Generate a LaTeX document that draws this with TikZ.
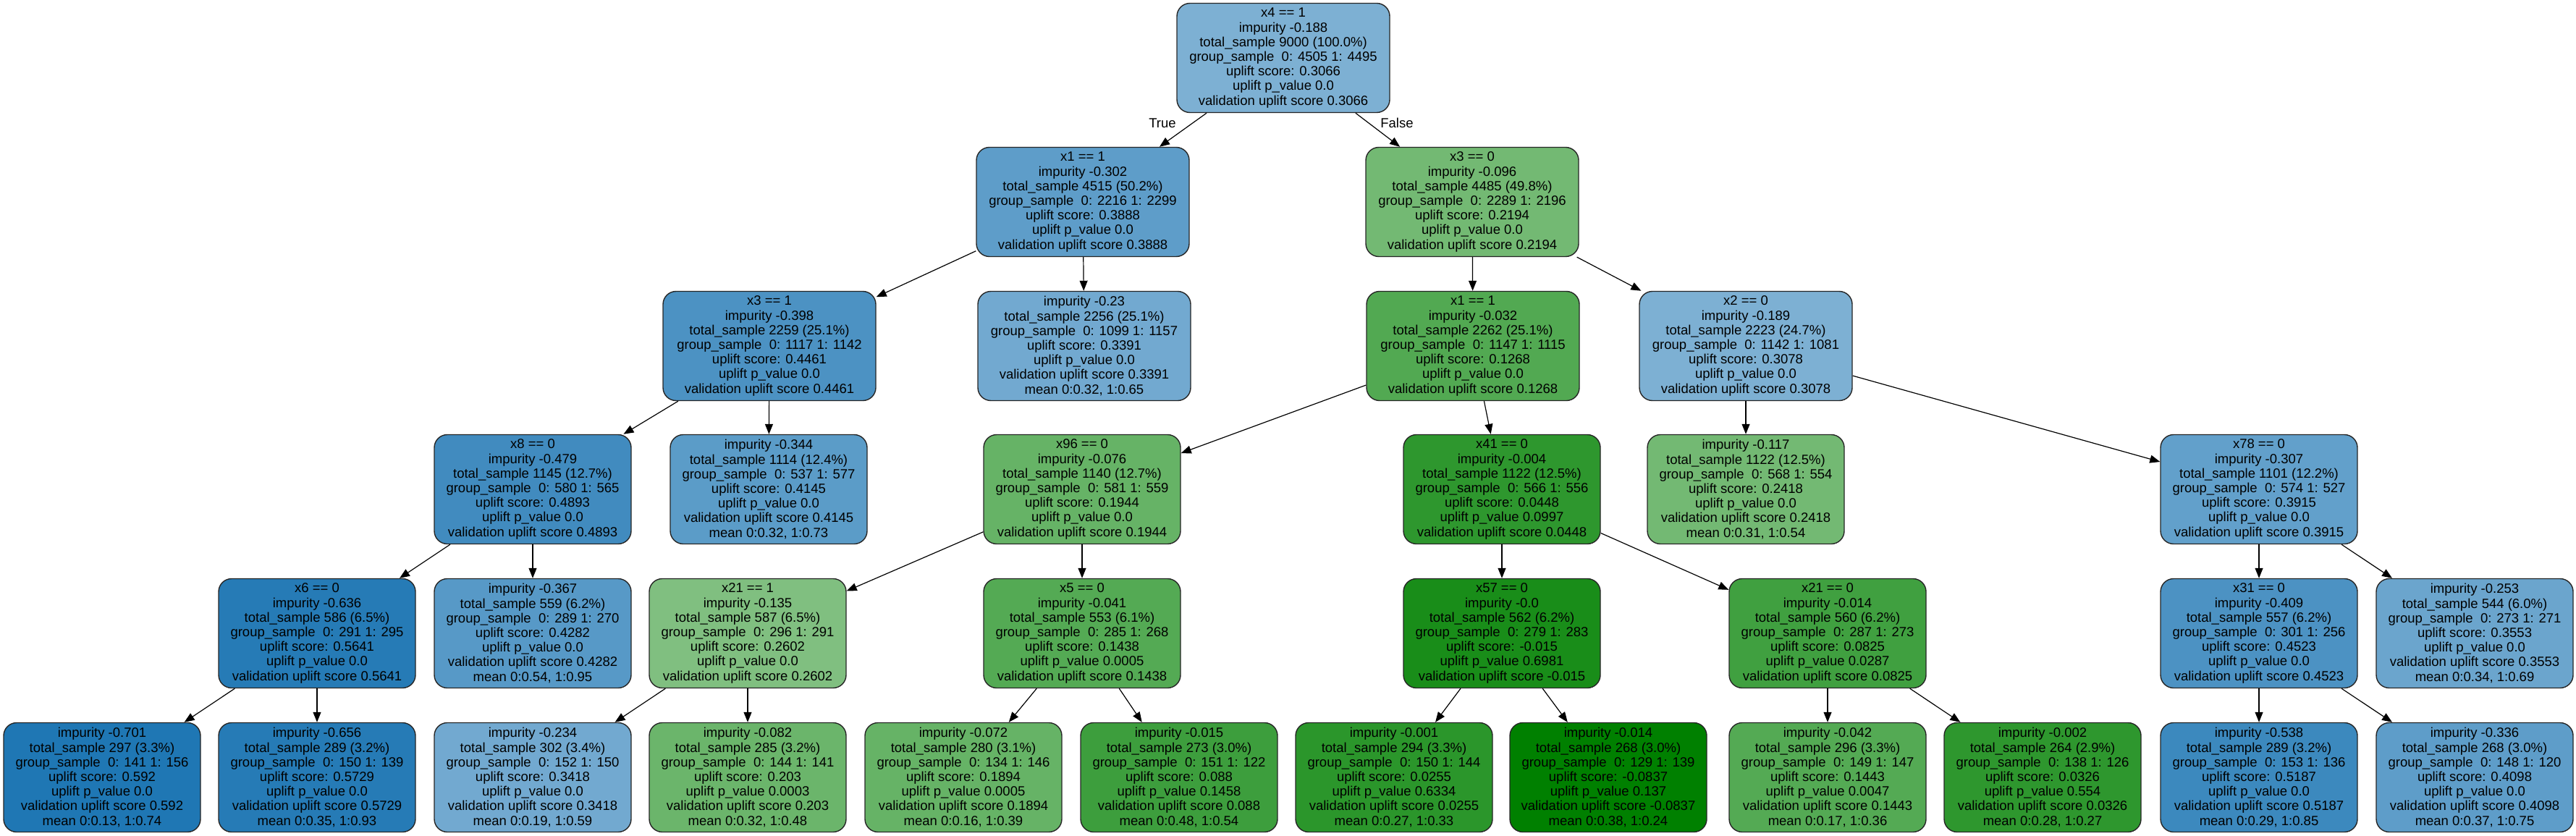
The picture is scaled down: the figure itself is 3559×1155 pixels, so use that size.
\documentclass[tikz,border=0pt]{standalone}
\usepackage{fontspec}
\setmainfont{Liberation Sans}
\usepackage{tikz}
\usetikzlibrary{arrows.meta}

\definecolor{upblue}{HTML}{1F77B4}
\definecolor{upgreen}{HTML}{008000}

\begin{document}
\begin{tikzpicture}[x=1pt,y=-1pt]
			\tikzstyle{Box}		= [rectangle, rounded corners=18pt, draw=black!85, line width=1.4pt, minimum width=272pt, minimum height=151pt, inner sep=0pt, align=center, font=\fontsize{18.5}{20.2}\selectfont]
			\tikzstyle{Wide}	= [minimum width=294pt]
			\tikzstyle{Edge}	= [-{Triangle[length=14pt,width=11pt]}, line width=1.2pt]
			\tikzstyle{Branch}	= [font=\fontsize{18.5}{20.2}\selectfont]

			\useasboundingbox (0,0) rectangle (3559,1155);

			% level 0 and 1
			\node (n0) at (1773,80) [Box][Wide][fill=upblue!58] {x4 == 1\\impurity -0.188\\total\_sample 9000 (100.0\%)\\group\_sample\ \ 0: 4505 1: 4495\\uplift score: 0.3066\\uplift p\_value 0.0\\validation uplift score 0.3066};
			\node (n1) at (1496,279) [Box][Wide][fill=upblue!72] {x1 == 1\\impurity -0.302\\total\_sample 4515 (50.2\%)\\group\_sample\ \ 0: 2216 1: 2299\\uplift score: 0.3888\\uplift p\_value 0.0\\validation uplift score 0.3888};
			\node (n2) at (2034,279) [Box][Wide][fill=upgreen!55] {x3 == 0\\impurity -0.096\\total\_sample 4485 (49.8\%)\\group\_sample\ \ 0: 2289 1: 2196\\uplift score: 0.2194\\uplift p\_value 0.0\\validation uplift score 0.2194};

			% level 2
			\node (n3) at (1063,478) [Box][Wide][fill=upblue!80] {x3 == 1\\impurity -0.398\\total\_sample 2259 (25.1\%)\\group\_sample\ \ 0: 1117 1: 1142\\uplift score: 0.4461\\uplift p\_value 0.0\\validation uplift score 0.4461};
			\node (n4) at (1498,478) [Box][Wide][fill=upblue!63] {impurity -0.23\\total\_sample 2256 (25.1\%)\\group\_sample\ \ 0: 1099 1: 1157\\uplift score: 0.3391\\uplift p\_value 0.0\\validation uplift score 0.3391\\mean 0:0.32, 1:0.65};
			\node (n5) at (2035,478) [Box][Wide][fill=upgreen!68] {x1 == 1\\impurity -0.032\\total\_sample 2262 (25.1\%)\\group\_sample\ \ 0: 1147 1: 1115\\uplift score: 0.1268\\uplift p\_value 0.0\\validation uplift score 0.1268};
			\node (n6) at (2412,478) [Box][Wide][fill=upblue!58] {x2 == 0\\impurity -0.189\\total\_sample 2223 (24.7\%)\\group\_sample\ \ 0: 1142 1: 1081\\uplift score: 0.3078\\uplift p\_value 0.0\\validation uplift score 0.3078};

			% level 3
			\node (n7) at (736,676) [Box][fill=upblue!85] {x8 == 0\\impurity -0.479\\total\_sample 1145 (12.7\%)\\group\_sample\ \ 0: 580 1: 565\\uplift score: 0.4893\\uplift p\_value 0.0\\validation uplift score 0.4893};
			\node (n8) at (1062,676) [Box][fill=upblue!73] {impurity -0.344\\total\_sample 1114 (12.4\%)\\group\_sample\ \ 0: 537 1: 577\\uplift score: 0.4145\\uplift p\_value 0.0\\validation uplift score 0.4145\\mean 0:0.32, 1:0.73};
			\node (n9) at (1495,676) [Box][fill=upgreen!60] {x96 == 0\\impurity -0.076\\total\_sample 1140 (12.7\%)\\group\_sample\ \ 0: 581 1: 559\\uplift score: 0.1944\\uplift p\_value 0.0\\validation uplift score 0.1944};
			\node (n10) at (2075,676) [Box][fill=upgreen!82] {x41 == 0\\impurity -0.004\\total\_sample 1122 (12.5\%)\\group\_sample\ \ 0: 566 1: 556\\uplift score: 0.0448\\uplift p\_value 0.0997\\validation uplift score 0.0448};
			\node (n11) at (2412,676) [Box][fill=upgreen!55] {impurity -0.117\\total\_sample 1122 (12.5\%)\\group\_sample\ \ 0: 568 1: 554\\uplift score: 0.2418\\uplift p\_value 0.0\\validation uplift score 0.2418\\mean 0:0.31, 1:0.54};
			\node (n12) at (3121,676) [Box][fill=upblue!70] {x78 == 0\\impurity -0.307\\total\_sample 1101 (12.2\%)\\group\_sample\ \ 0: 574 1: 527\\uplift score: 0.3915\\uplift p\_value 0.0\\validation uplift score 0.3915};

			% level 4
			\node (n13) at (438,875) [Box][fill=upblue!97] {x6 == 0\\impurity -0.636\\total\_sample 586 (6.5\%)\\group\_sample\ \ 0: 291 1: 295\\uplift score: 0.5641\\uplift p\_value 0.0\\validation uplift score 0.5641};
			\node (n14) at (736,875) [Box][fill=upblue!75] {impurity -0.367\\total\_sample 559 (6.2\%)\\group\_sample\ \ 0: 289 1: 270\\uplift score: 0.4282\\uplift p\_value 0.0\\validation uplift score 0.4282\\mean 0:0.54, 1:0.95};
			\node (n15) at (1033,875) [Box][fill=upgreen!50] {x21 == 1\\impurity -0.135\\total\_sample 587 (6.5\%)\\group\_sample\ \ 0: 296 1: 291\\uplift score: 0.2602\\uplift p\_value 0.0\\validation uplift score 0.2602};
			\node (n16) at (1495,875) [Box][fill=upgreen!67] {x5 == 0\\impurity -0.041\\total\_sample 553 (6.1\%)\\group\_sample\ \ 0: 285 1: 268\\uplift score: 0.1438\\uplift p\_value 0.0005\\validation uplift score 0.1438};
			\node (n17) at (2075,875) [Box][fill=upgreen!90] {x57 == 0\\impurity -0.0\\total\_sample 562 (6.2\%)\\group\_sample\ \ 0: 279 1: 283\\uplift score: -0.015\\uplift p\_value 0.6981\\validation uplift score -0.015};
			\node (n18) at (2525,875) [Box][fill=upgreen!75] {x21 == 0\\impurity -0.014\\total\_sample 560 (6.2\%)\\group\_sample\ \ 0: 287 1: 273\\uplift score: 0.0825\\uplift p\_value 0.0287\\validation uplift score 0.0825};
			\node (n19) at (3121,875) [Box][fill=upblue!80] {x31 == 0\\impurity -0.409\\total\_sample 557 (6.2\%)\\group\_sample\ \ 0: 301 1: 256\\uplift score: 0.4523\\uplift p\_value 0.0\\validation uplift score 0.4523};
			\node (n20) at (3419,875) [Box][fill=upblue!66] {impurity -0.253\\total\_sample 544 (6.0\%)\\group\_sample\ \ 0: 273 1: 271\\uplift score: 0.3553\\uplift p\_value 0.0\\validation uplift score 0.3553\\mean 0:0.34, 1:0.69};

			% level 5 (leaves)
			\node (n21) at (141,1074) [Box][fill=upblue] {impurity -0.701\\total\_sample 297 (3.3\%)\\group\_sample\ \ 0: 141 1: 156\\uplift score: 0.592\\uplift p\_value 0.0\\validation uplift score 0.592\\mean 0:0.13, 1:0.74};
			\node (n22) at (438,1074) [Box][fill=upblue!97] {impurity -0.656\\total\_sample 289 (3.2\%)\\group\_sample\ \ 0: 150 1: 139\\uplift score: 0.5729\\uplift p\_value 0.0\\validation uplift score 0.5729\\mean 0:0.35, 1:0.93};
			\node (n23) at (736,1074) [Box][fill=upblue!63] {impurity -0.234\\total\_sample 302 (3.4\%)\\group\_sample\ \ 0: 152 1: 150\\uplift score: 0.3418\\uplift p\_value 0.0\\validation uplift score 0.3418\\mean 0:0.19, 1:0.59};
			\node (n24) at (1033,1074) [Box][fill=upgreen!58] {impurity -0.082\\total\_sample 285 (3.2\%)\\group\_sample\ \ 0: 144 1: 141\\uplift score: 0.203\\uplift p\_value 0.0003\\validation uplift score 0.203\\mean 0:0.32, 1:0.48};
			\node (n25) at (1331,1074) [Box][fill=upgreen!60] {impurity -0.072\\total\_sample 280 (3.1\%)\\group\_sample\ \ 0: 134 1: 146\\uplift score: 0.1894\\uplift p\_value 0.0005\\validation uplift score 0.1894\\mean 0:0.16, 1:0.39};
			\node (n26) at (1629,1074) [Box][fill=upgreen!76] {impurity -0.015\\total\_sample 273 (3.0\%)\\group\_sample\ \ 0: 151 1: 122\\uplift score: 0.088\\uplift p\_value 0.1458\\validation uplift score 0.088\\mean 0:0.48, 1:0.54};
			\node (n27) at (1926,1074) [Box][fill=upgreen!83] {impurity -0.001\\total\_sample 294 (3.3\%)\\group\_sample\ \ 0: 150 1: 144\\uplift score: 0.0255\\uplift p\_value 0.6334\\validation uplift score 0.0255\\mean 0:0.27, 1:0.33};
			\node (n28) at (2222,1074) [Box][fill=upgreen] {impurity -0.014\\total\_sample 268 (3.0\%)\\group\_sample\ \ 0: 129 1: 139\\uplift score: -0.0837\\uplift p\_value 0.137\\validation uplift score -0.0837\\mean 0:0.38, 1:0.24};
			\node (n29) at (2525,1074) [Box][fill=upgreen!67] {impurity -0.042\\total\_sample 296 (3.3\%)\\group\_sample\ \ 0: 149 1: 147\\uplift score: 0.1443\\uplift p\_value 0.0047\\validation uplift score 0.1443\\mean 0:0.17, 1:0.36};
			\node (n30) at (2822,1074) [Box][fill=upgreen!82] {impurity -0.002\\total\_sample 264 (2.9\%)\\group\_sample\ \ 0: 138 1: 126\\uplift score: 0.0326\\uplift p\_value 0.554\\validation uplift score 0.0326\\mean 0:0.28, 1:0.27};
			\node (n31) at (3121,1074) [Box][fill=upblue!87] {impurity -0.538\\total\_sample 289 (3.2\%)\\group\_sample\ \ 0: 153 1: 136\\uplift score: 0.5187\\uplift p\_value 0.0\\validation uplift score 0.5187\\mean 0:0.29, 1:0.85};
			\node (n32) at (3419,1074) [Box][fill=upblue!72] {impurity -0.336\\total\_sample 268 (3.0\%)\\group\_sample\ \ 0: 148 1: 120\\uplift score: 0.4098\\uplift p\_value 0.0\\validation uplift score 0.4098\\mean 0:0.37, 1:0.75};

			\node (lt) at (1606,170) [Branch] {True};
			\node (lf) at (1930,170) [Branch] {False};

			\draw [Edge] (n0) to (n1);
			\draw [Edge] (n0) to (n2);
			\draw [Edge] (n1) to (n3);
			\draw [Edge] (n1) to (n4);
			\draw [Edge] (n2) to (n5);
			\draw [Edge] (n2) to (n6);
			\draw [Edge] (n3) to (n7);
			\draw [Edge] (n3) to (n8);
			\draw [Edge] (n5) to (n9);
			\draw [Edge] (n5) to (n10);
			\draw [Edge] (n6) to (n11);
			\draw [Edge] (n6) to (n12);
			\draw [Edge] (n7) to (n13);
			\draw [Edge] (n7) to (n14);
			\draw [Edge] (n9) to (n15);
			\draw [Edge] (n9) to (n16);
			\draw [Edge] (n10) to (n17);
			\draw [Edge] (n10) to (n18);
			\draw [Edge] (n12) to (n19);
			\draw [Edge] (n12) to (n20);
			\draw [Edge] (n13) to (n21);
			\draw [Edge] (n13) to (n22);
			\draw [Edge] (n15) to (n23);
			\draw [Edge] (n15) to (n24);
			\draw [Edge] (n16) to (n25);
			\draw [Edge] (n16) to (n26);
			\draw [Edge] (n17) to (n27);
			\draw [Edge] (n17) to (n28);
			\draw [Edge] (n18) to (n29);
			\draw [Edge] (n18) to (n30);
			\draw [Edge] (n19) to (n31);
			\draw [Edge] (n19) to (n32);
		\end{tikzpicture}
\end{document}
